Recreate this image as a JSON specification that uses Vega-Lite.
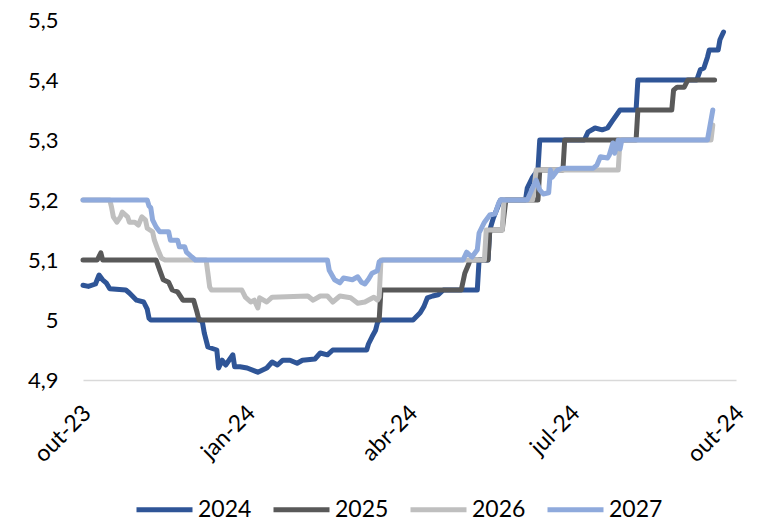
{
  "$schema": "https://vega.github.io/schema/vega-lite/v6.json",
  "autosize": {"type": "none"},
  "width": 653,
  "height": 360,
  "padding": {"left": 83, "top": 20, "right": 35, "bottom": 149},
  "background": "#ffffff",
  "config": {
    "view": {"stroke": null},
    "font": "Lato",
    "axis": {"labelFont": "Lato", "labelColor": "#000000"},
    "legend": {"labelFont": "Lato", "labelColor": "#000000"}
  },
  "data": {
    "values": [
      {"serie": "2024", "data": "2023-10-02", "taxa": 5.058},
      {"serie": "2024", "data": "2023-10-05", "taxa": 5.056},
      {"serie": "2024", "data": "2023-10-09", "taxa": 5.06},
      {"serie": "2024", "data": "2023-10-11", "taxa": 5.075},
      {"serie": "2024", "data": "2023-10-13", "taxa": 5.067},
      {"serie": "2024", "data": "2023-10-15", "taxa": 5.062},
      {"serie": "2024", "data": "2023-10-17", "taxa": 5.052},
      {"serie": "2024", "data": "2023-10-26", "taxa": 5.05},
      {"serie": "2024", "data": "2023-10-28", "taxa": 5.045},
      {"serie": "2024", "data": "2023-11-01", "taxa": 5.033},
      {"serie": "2024", "data": "2023-11-05", "taxa": 5.03},
      {"serie": "2024", "data": "2023-11-07", "taxa": 5.018},
      {"serie": "2024", "data": "2023-11-08", "taxa": 5.003},
      {"serie": "2024", "data": "2023-11-09", "taxa": 5.0},
      {"serie": "2024", "data": "2023-12-07", "taxa": 5.0},
      {"serie": "2024", "data": "2023-12-08", "taxa": 4.995},
      {"serie": "2024", "data": "2023-12-09", "taxa": 4.978},
      {"serie": "2024", "data": "2023-12-11", "taxa": 4.955},
      {"serie": "2024", "data": "2023-12-16", "taxa": 4.95},
      {"serie": "2024", "data": "2023-12-17", "taxa": 4.92},
      {"serie": "2024", "data": "2023-12-19", "taxa": 4.933},
      {"serie": "2024", "data": "2023-12-21", "taxa": 4.925},
      {"serie": "2024", "data": "2023-12-25", "taxa": 4.942},
      {"serie": "2024", "data": "2023-12-26", "taxa": 4.922},
      {"serie": "2024", "data": "2023-12-29", "taxa": 4.922},
      {"serie": "2024", "data": "2024-01-02", "taxa": 4.92},
      {"serie": "2024", "data": "2024-01-08", "taxa": 4.913},
      {"serie": "2024", "data": "2024-01-13", "taxa": 4.92},
      {"serie": "2024", "data": "2024-01-16", "taxa": 4.93},
      {"serie": "2024", "data": "2024-01-19", "taxa": 4.925},
      {"serie": "2024", "data": "2024-01-22", "taxa": 4.933},
      {"serie": "2024", "data": "2024-01-26", "taxa": 4.933},
      {"serie": "2024", "data": "2024-01-30", "taxa": 4.928},
      {"serie": "2024", "data": "2024-02-02", "taxa": 4.933},
      {"serie": "2024", "data": "2024-02-09", "taxa": 4.935},
      {"serie": "2024", "data": "2024-02-12", "taxa": 4.945},
      {"serie": "2024", "data": "2024-02-16", "taxa": 4.942},
      {"serie": "2024", "data": "2024-02-19", "taxa": 4.95},
      {"serie": "2024", "data": "2024-03-09", "taxa": 4.95},
      {"serie": "2024", "data": "2024-03-10", "taxa": 4.96},
      {"serie": "2024", "data": "2024-03-12", "taxa": 4.972},
      {"serie": "2024", "data": "2024-03-14", "taxa": 4.983},
      {"serie": "2024", "data": "2024-03-15", "taxa": 4.995},
      {"serie": "2024", "data": "2024-03-16", "taxa": 5.0},
      {"serie": "2024", "data": "2024-04-04", "taxa": 5.0},
      {"serie": "2024", "data": "2024-04-08", "taxa": 5.012},
      {"serie": "2024", "data": "2024-04-10", "taxa": 5.022},
      {"serie": "2024", "data": "2024-04-12", "taxa": 5.037},
      {"serie": "2024", "data": "2024-04-15", "taxa": 5.04},
      {"serie": "2024", "data": "2024-04-18", "taxa": 5.042},
      {"serie": "2024", "data": "2024-04-21", "taxa": 5.05},
      {"serie": "2024", "data": "2024-05-10", "taxa": 5.05},
      {"serie": "2024", "data": "2024-05-11", "taxa": 5.1},
      {"serie": "2024", "data": "2024-05-16", "taxa": 5.1},
      {"serie": "2024", "data": "2024-05-17", "taxa": 5.15},
      {"serie": "2024", "data": "2024-05-19", "taxa": 5.17},
      {"serie": "2024", "data": "2024-05-23", "taxa": 5.2},
      {"serie": "2024", "data": "2024-06-06", "taxa": 5.2},
      {"serie": "2024", "data": "2024-06-07", "taxa": 5.22},
      {"serie": "2024", "data": "2024-06-10", "taxa": 5.238},
      {"serie": "2024", "data": "2024-06-13", "taxa": 5.25},
      {"serie": "2024", "data": "2024-06-14", "taxa": 5.3},
      {"serie": "2024", "data": "2024-07-09", "taxa": 5.3},
      {"serie": "2024", "data": "2024-07-11", "taxa": 5.313},
      {"serie": "2024", "data": "2024-07-15", "taxa": 5.32},
      {"serie": "2024", "data": "2024-07-19", "taxa": 5.317},
      {"serie": "2024", "data": "2024-07-22", "taxa": 5.32},
      {"serie": "2024", "data": "2024-07-25", "taxa": 5.333},
      {"serie": "2024", "data": "2024-07-29", "taxa": 5.35},
      {"serie": "2024", "data": "2024-08-07", "taxa": 5.35},
      {"serie": "2024", "data": "2024-08-08", "taxa": 5.4},
      {"serie": "2024", "data": "2024-09-10", "taxa": 5.4},
      {"serie": "2024", "data": "2024-09-12", "taxa": 5.417},
      {"serie": "2024", "data": "2024-09-14", "taxa": 5.42},
      {"serie": "2024", "data": "2024-09-16", "taxa": 5.438},
      {"serie": "2024", "data": "2024-09-17", "taxa": 5.45},
      {"serie": "2024", "data": "2024-09-22", "taxa": 5.45},
      {"serie": "2024", "data": "2024-09-23", "taxa": 5.467},
      {"serie": "2024", "data": "2024-09-25", "taxa": 5.48},

      {"serie": "2025", "data": "2023-10-02", "taxa": 5.1},
      {"serie": "2025", "data": "2023-10-10", "taxa": 5.1},
      {"serie": "2025", "data": "2023-10-12", "taxa": 5.112},
      {"serie": "2025", "data": "2023-10-13", "taxa": 5.1},
      {"serie": "2025", "data": "2023-11-12", "taxa": 5.1},
      {"serie": "2025", "data": "2023-11-14", "taxa": 5.083},
      {"serie": "2025", "data": "2023-11-16", "taxa": 5.067},
      {"serie": "2025", "data": "2023-11-19", "taxa": 5.063},
      {"serie": "2025", "data": "2023-11-21", "taxa": 5.05},
      {"serie": "2025", "data": "2023-11-24", "taxa": 5.047},
      {"serie": "2025", "data": "2023-11-27", "taxa": 5.033},
      {"serie": "2025", "data": "2023-12-03", "taxa": 5.033},
      {"serie": "2025", "data": "2023-12-05", "taxa": 5.012},
      {"serie": "2025", "data": "2023-12-06", "taxa": 5.0},
      {"serie": "2025", "data": "2024-03-16", "taxa": 5.0},
      {"serie": "2025", "data": "2024-03-17", "taxa": 5.05},
      {"serie": "2025", "data": "2024-05-01", "taxa": 5.05},
      {"serie": "2025", "data": "2024-05-03", "taxa": 5.078},
      {"serie": "2025", "data": "2024-05-05", "taxa": 5.092},
      {"serie": "2025", "data": "2024-05-06", "taxa": 5.1},
      {"serie": "2025", "data": "2024-05-16", "taxa": 5.1},
      {"serie": "2025", "data": "2024-05-17", "taxa": 5.15},
      {"serie": "2025", "data": "2024-05-24", "taxa": 5.15},
      {"serie": "2025", "data": "2024-05-26", "taxa": 5.2},
      {"serie": "2025", "data": "2024-06-13", "taxa": 5.2},
      {"serie": "2025", "data": "2024-06-14", "taxa": 5.25},
      {"serie": "2025", "data": "2024-06-27", "taxa": 5.25},
      {"serie": "2025", "data": "2024-06-28", "taxa": 5.3},
      {"serie": "2025", "data": "2024-08-07", "taxa": 5.3},
      {"serie": "2025", "data": "2024-08-08", "taxa": 5.35},
      {"serie": "2025", "data": "2024-08-27", "taxa": 5.35},
      {"serie": "2025", "data": "2024-08-28", "taxa": 5.383},
      {"serie": "2025", "data": "2024-08-30", "taxa": 5.388},
      {"serie": "2025", "data": "2024-09-03", "taxa": 5.388},
      {"serie": "2025", "data": "2024-09-05", "taxa": 5.4},
      {"serie": "2025", "data": "2024-09-20", "taxa": 5.4},

      {"serie": "2026", "data": "2023-10-02", "taxa": 5.2},
      {"serie": "2026", "data": "2023-10-17", "taxa": 5.2},
      {"serie": "2026", "data": "2023-10-18", "taxa": 5.188},
      {"serie": "2026", "data": "2023-10-19", "taxa": 5.172},
      {"serie": "2026", "data": "2023-10-21", "taxa": 5.163},
      {"serie": "2026", "data": "2023-10-23", "taxa": 5.172},
      {"serie": "2026", "data": "2023-10-24", "taxa": 5.18},
      {"serie": "2026", "data": "2023-10-27", "taxa": 5.172},
      {"serie": "2026", "data": "2023-10-28", "taxa": 5.163},
      {"serie": "2026", "data": "2023-10-31", "taxa": 5.163},
      {"serie": "2026", "data": "2023-11-02", "taxa": 5.158},
      {"serie": "2026", "data": "2023-11-04", "taxa": 5.172},
      {"serie": "2026", "data": "2023-11-06", "taxa": 5.167},
      {"serie": "2026", "data": "2023-11-07", "taxa": 5.153},
      {"serie": "2026", "data": "2023-11-10", "taxa": 5.147},
      {"serie": "2026", "data": "2023-11-11", "taxa": 5.133},
      {"serie": "2026", "data": "2023-11-13", "taxa": 5.117},
      {"serie": "2026", "data": "2023-11-15", "taxa": 5.103},
      {"serie": "2026", "data": "2023-11-17", "taxa": 5.1},
      {"serie": "2026", "data": "2023-12-10", "taxa": 5.1},
      {"serie": "2026", "data": "2023-12-11", "taxa": 5.078},
      {"serie": "2026", "data": "2023-12-12", "taxa": 5.055},
      {"serie": "2026", "data": "2023-12-13", "taxa": 5.05},
      {"serie": "2026", "data": "2023-12-30", "taxa": 5.05},
      {"serie": "2026", "data": "2024-01-01", "taxa": 5.038},
      {"serie": "2026", "data": "2024-01-04", "taxa": 5.03},
      {"serie": "2026", "data": "2024-01-06", "taxa": 5.033},
      {"serie": "2026", "data": "2024-01-08", "taxa": 5.02},
      {"serie": "2026", "data": "2024-01-09", "taxa": 5.037},
      {"serie": "2026", "data": "2024-01-13", "taxa": 5.03},
      {"serie": "2026", "data": "2024-01-16", "taxa": 5.038},
      {"serie": "2026", "data": "2024-02-05", "taxa": 5.04},
      {"serie": "2026", "data": "2024-02-08", "taxa": 5.033},
      {"serie": "2026", "data": "2024-02-12", "taxa": 5.04},
      {"serie": "2026", "data": "2024-02-16", "taxa": 5.04},
      {"serie": "2026", "data": "2024-02-19", "taxa": 5.03},
      {"serie": "2026", "data": "2024-02-23", "taxa": 5.04},
      {"serie": "2026", "data": "2024-02-29", "taxa": 5.037},
      {"serie": "2026", "data": "2024-03-04", "taxa": 5.028},
      {"serie": "2026", "data": "2024-03-08", "taxa": 5.03},
      {"serie": "2026", "data": "2024-03-13", "taxa": 5.038},
      {"serie": "2026", "data": "2024-03-15", "taxa": 5.033},
      {"serie": "2026", "data": "2024-03-16", "taxa": 5.038},
      {"serie": "2026", "data": "2024-03-17", "taxa": 5.1},
      {"serie": "2026", "data": "2024-05-14", "taxa": 5.1},
      {"serie": "2026", "data": "2024-05-15", "taxa": 5.15},
      {"serie": "2026", "data": "2024-05-24", "taxa": 5.15},
      {"serie": "2026", "data": "2024-05-25", "taxa": 5.2},
      {"serie": "2026", "data": "2024-06-10", "taxa": 5.2},
      {"serie": "2026", "data": "2024-06-12", "taxa": 5.25},
      {"serie": "2026", "data": "2024-07-28", "taxa": 5.25},
      {"serie": "2026", "data": "2024-07-29", "taxa": 5.3},
      {"serie": "2026", "data": "2024-09-18", "taxa": 5.3},
      {"serie": "2026", "data": "2024-09-19", "taxa": 5.325},

      {"serie": "2027", "data": "2023-10-02", "taxa": 5.2},
      {"serie": "2027", "data": "2023-11-07", "taxa": 5.2},
      {"serie": "2027", "data": "2023-11-08", "taxa": 5.19},
      {"serie": "2027", "data": "2023-11-09", "taxa": 5.187},
      {"serie": "2027", "data": "2023-11-10", "taxa": 5.167},
      {"serie": "2027", "data": "2023-11-12", "taxa": 5.155},
      {"serie": "2027", "data": "2023-11-14", "taxa": 5.147},
      {"serie": "2027", "data": "2023-11-19", "taxa": 5.147},
      {"serie": "2027", "data": "2023-11-20", "taxa": 5.133},
      {"serie": "2027", "data": "2023-11-24", "taxa": 5.133},
      {"serie": "2027", "data": "2023-11-25", "taxa": 5.122},
      {"serie": "2027", "data": "2023-11-28", "taxa": 5.122},
      {"serie": "2027", "data": "2023-11-29", "taxa": 5.113},
      {"serie": "2027", "data": "2023-12-02", "taxa": 5.105},
      {"serie": "2027", "data": "2023-12-04", "taxa": 5.1},
      {"serie": "2027", "data": "2024-02-16", "taxa": 5.1},
      {"serie": "2027", "data": "2024-02-17", "taxa": 5.083},
      {"serie": "2027", "data": "2024-02-20", "taxa": 5.067},
      {"serie": "2027", "data": "2024-02-23", "taxa": 5.062},
      {"serie": "2027", "data": "2024-02-25", "taxa": 5.07},
      {"serie": "2027", "data": "2024-03-01", "taxa": 5.067},
      {"serie": "2027", "data": "2024-03-04", "taxa": 5.072},
      {"serie": "2027", "data": "2024-03-06", "taxa": 5.063},
      {"serie": "2027", "data": "2024-03-08", "taxa": 5.06},
      {"serie": "2027", "data": "2024-03-10", "taxa": 5.068},
      {"serie": "2027", "data": "2024-03-12", "taxa": 5.078},
      {"serie": "2027", "data": "2024-03-15", "taxa": 5.082},
      {"serie": "2027", "data": "2024-03-16", "taxa": 5.097},
      {"serie": "2027", "data": "2024-03-18", "taxa": 5.1},
      {"serie": "2027", "data": "2024-05-02", "taxa": 5.1},
      {"serie": "2027", "data": "2024-05-04", "taxa": 5.113},
      {"serie": "2027", "data": "2024-05-07", "taxa": 5.105},
      {"serie": "2027", "data": "2024-05-10", "taxa": 5.117},
      {"serie": "2027", "data": "2024-05-11", "taxa": 5.145},
      {"serie": "2027", "data": "2024-05-14", "taxa": 5.163},
      {"serie": "2027", "data": "2024-05-17", "taxa": 5.175},
      {"serie": "2027", "data": "2024-05-20", "taxa": 5.177},
      {"serie": "2027", "data": "2024-05-22", "taxa": 5.195},
      {"serie": "2027", "data": "2024-05-23", "taxa": 5.2},
      {"serie": "2027", "data": "2024-06-07", "taxa": 5.2},
      {"serie": "2027", "data": "2024-06-10", "taxa": 5.22},
      {"serie": "2027", "data": "2024-06-12", "taxa": 5.233},
      {"serie": "2027", "data": "2024-06-14", "taxa": 5.217},
      {"serie": "2027", "data": "2024-06-16", "taxa": 5.21},
      {"serie": "2027", "data": "2024-06-19", "taxa": 5.212},
      {"serie": "2027", "data": "2024-06-20", "taxa": 5.25},
      {"serie": "2027", "data": "2024-06-21", "taxa": 5.238},
      {"serie": "2027", "data": "2024-06-24", "taxa": 5.25},
      {"serie": "2027", "data": "2024-06-27", "taxa": 5.253},
      {"serie": "2027", "data": "2024-07-14", "taxa": 5.253},
      {"serie": "2027", "data": "2024-07-16", "taxa": 5.258},
      {"serie": "2027", "data": "2024-07-18", "taxa": 5.272},
      {"serie": "2027", "data": "2024-07-22", "taxa": 5.27},
      {"serie": "2027", "data": "2024-07-23", "taxa": 5.275},
      {"serie": "2027", "data": "2024-07-25", "taxa": 5.295},
      {"serie": "2027", "data": "2024-07-26", "taxa": 5.278},
      {"serie": "2027", "data": "2024-07-28", "taxa": 5.3},
      {"serie": "2027", "data": "2024-07-29", "taxa": 5.285},
      {"serie": "2027", "data": "2024-07-30", "taxa": 5.3},
      {"serie": "2027", "data": "2024-09-16", "taxa": 5.3},
      {"serie": "2027", "data": "2024-09-19", "taxa": 5.35}
    ]
  },
  "mark": {
    "type": "line",
    "strokeWidth": 5,
    "strokeCap": "round",
    "strokeJoin": "round",
    "interpolate": "linear"
  },
  "encoding": {
    "x": {
      "field": "data",
      "type": "temporal",
      "title": null,
      "scale": {
        "type": "utc",
        "nice": false,
        "domain": [
          {"year": 2023, "month": 10, "date": 2, "utc": true},
          {"year": 2024, "month": 10, "date": 2, "utc": true}
        ]
      },
      "axis": {
        "values": [
          {"year": 2023, "month": 10, "date": 2, "utc": true},
          {"year": 2024, "month": 1, "date": 2, "utc": true},
          {"year": 2024, "month": 4, "date": 2, "utc": true},
          {"year": 2024, "month": 7, "date": 2, "utc": true},
          {"year": 2024, "month": 10, "date": 2, "utc": true}
        ],
        "labelExpr": "['jan','fev','mar','abr','mai','jun','jul','ago','set','out','nov','dez'][utcmonth(datum.value)] + '-' + utcFormat(datum.value, '%y')",
        "labelAngle": -45,
        "labelAlign": "right",
        "labelBaseline": "middle",
        "labelFontSize": 23,
        "labelPadding": 29,
        "labelOffset": 4,
        "labelOverlap": false,
        "labelFlush": false,
        "ticks": false,
        "grid": false,
        "domain": true,
        "domainColor": "#D9D9D9",
        "domainWidth": 1.5
      }
    },
    "y": {
      "field": "taxa",
      "type": "quantitative",
      "title": null,
      "scale": {"domain": [4.9, 5.5], "nice": false, "zero": false},
      "axis": {
        "values": [4.9, 5.0, 5.1, 5.2, 5.3, 5.4, 5.5],
        "labelExpr": "replace(format(datum.value, '.1~f'), '.', ',')",
        "labelFontSize": 22,
        "labelPadding": 25,
        "labelFlush": false,
        "labelOverlap": false,
        "ticks": false,
        "grid": false,
        "domain": false
      }
    },
    "color": {
      "field": "serie",
      "type": "nominal",
      "title": null,
      "scale": {
        "domain": ["2024", "2025", "2026", "2027"],
        "range": ["#2F5597", "#595959", "#BFBFBF", "#8FAADC"]
      },
      "legend": {
        "orient": "none",
        "direction": "horizontal",
        "legendX": 51,
        "legendY": 459,
        "symbolType": "stroke",
        "symbolSize": 3136,
        "symbolStrokeWidth": 5,
        "labelFontSize": 23,
        "labelOffset": 3,
        "columnPadding": 11,
        "padding": 0
      }
    }
  }
}
